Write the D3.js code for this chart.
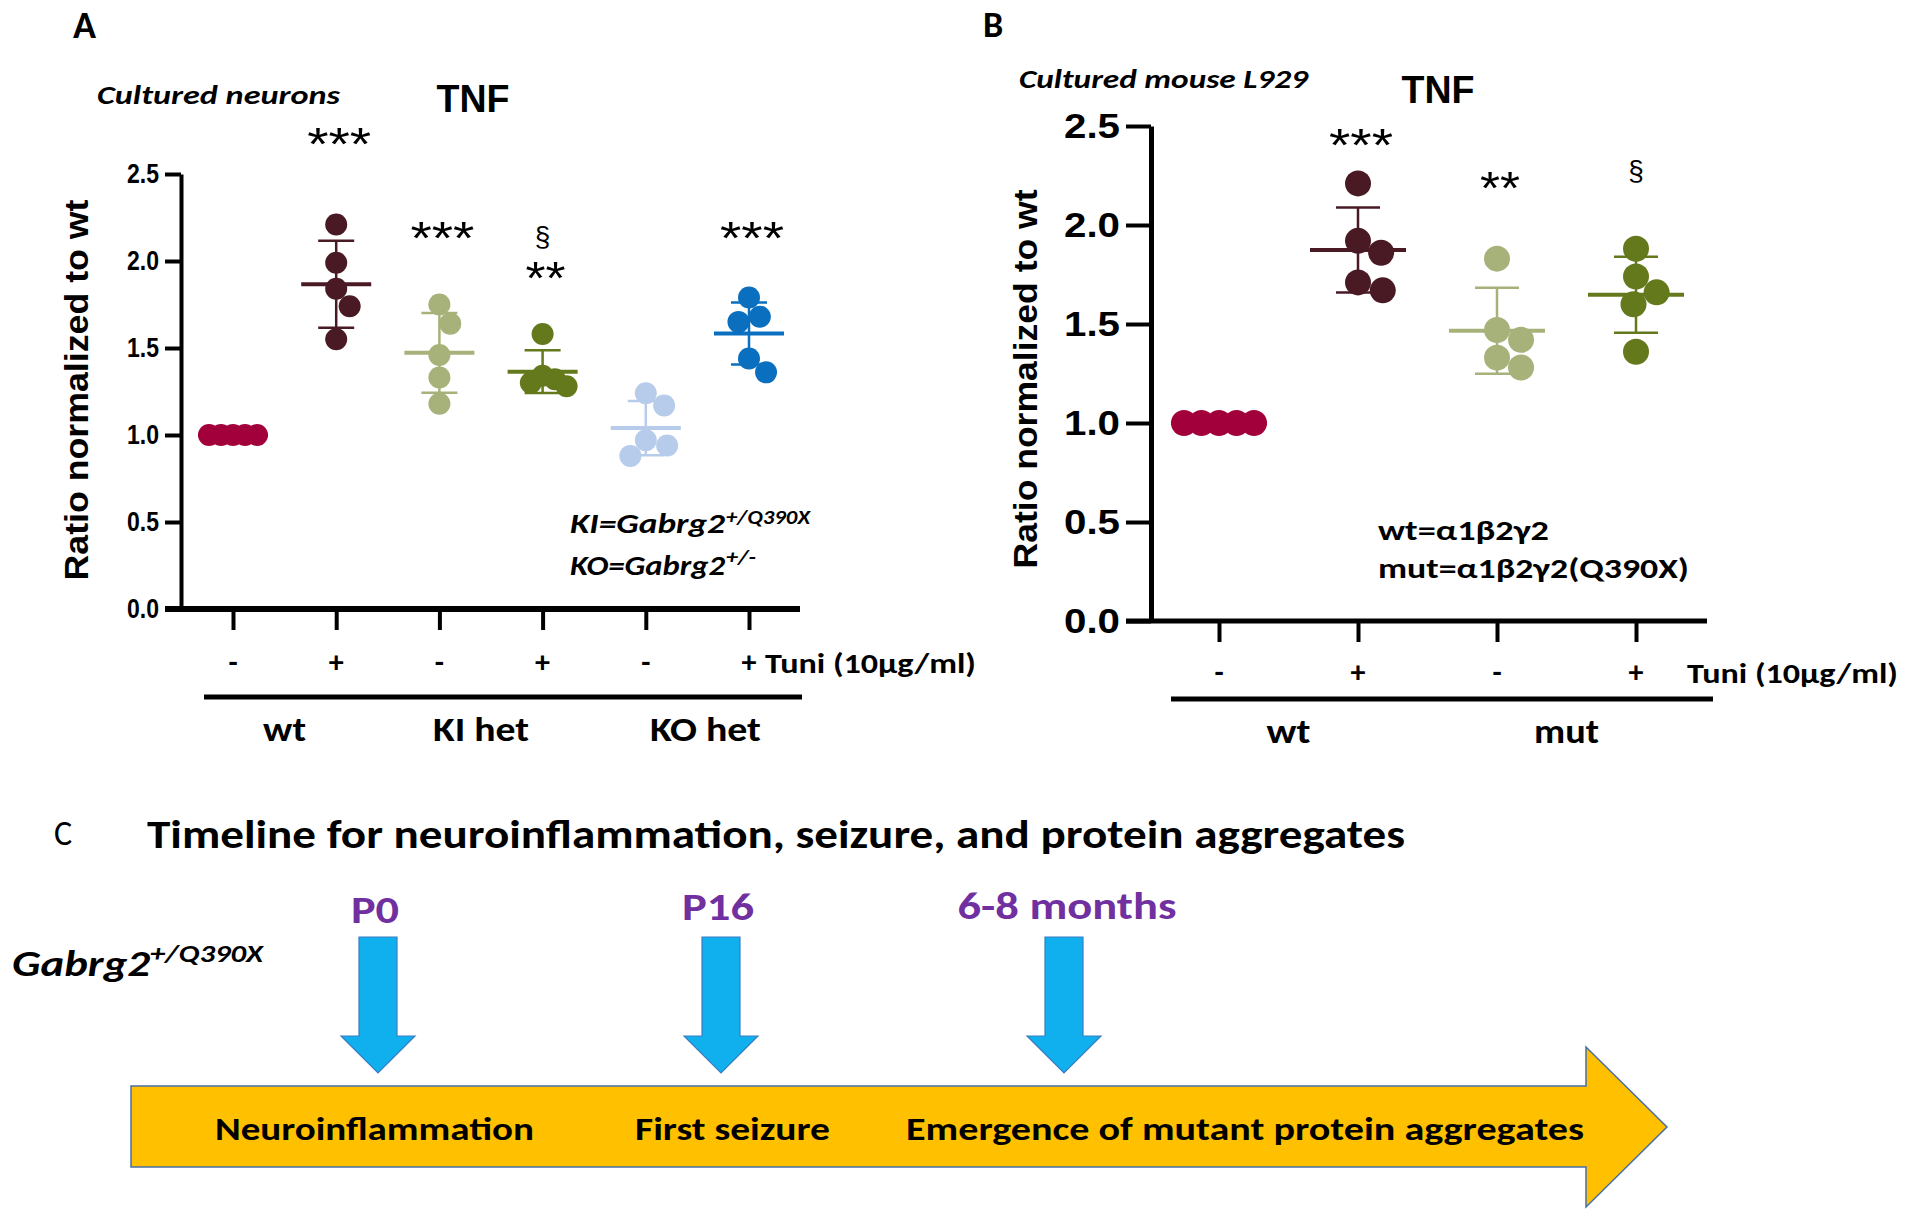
<!DOCTYPE html>
<html><head><meta charset="utf-8">
<script src="https://cdn.jsdelivr.net/npm/d3@7"></script>
<style>body{margin:0;background:#fff;}svg{display:block;}</style>
</head><body>
<svg id="chart" width="1915" height="1221"></svg>
<script>
// ---------------- DATA ----------------
const yTickValues = [0, 0.5, 1.0, 1.5, 2.0, 2.5];

// Panel A: cultured neurons, TNF
const panelATuni = ["-", "+", "-", "+", "-", "+"];
const panelAGenotypes = ["wt", "KI het", "KO het"];
const panelAValues = [
  [1.00, 1.00, 1.00, 1.00, 1.00],
  [2.21, 1.99, 1.84, 1.74, 1.55],
  [1.75, 1.64, 1.46, 1.33, 1.18],
  [1.58, 1.34, 1.32, 1.30, 1.28],
  [1.24, 1.17, 0.97, 0.94, 0.88],
  [1.79, 1.68, 1.65, 1.44, 1.36]
];
const panelAColors = ["#a2003a", "#4a1a24", "#a7b27a", "#64781c", "#b7ccea", "#0a6fbf"];
const panelAStars = ["", "***", "***", "**", "", "***"];
const panelAStarLevel = [null, 2.71, 2.17, 1.94, null, 2.17];
const panelASection = ["", "", "", "§", "", ""];
const panelASectionLevel = [null, null, null, 2.13, null, null];

// Panel B: cultured mouse L929, TNF
const panelBTuni = ["-", "+", "-", "+"];
const panelBGenotypes = ["wt", "mut"];
const panelBValues = [
  [1.00, 1.00, 1.00, 1.00, 1.00],
  [2.21, 1.92, 1.86, 1.71, 1.67],
  [1.83, 1.47, 1.42, 1.33, 1.28],
  [1.88, 1.74, 1.66, 1.60, 1.36]
];
const panelBColors = ["#a2003a", "#4a1a24", "#a7b27a", "#64781c"];
const panelBStars = ["", "***", "**", ""];
const panelBStarLevel = [null, 2.44, 2.22, null];
const panelBSection = ["", "", "", "§"];
const panelBSectionLevel = [null, null, null, 2.27];

// Panel C: timeline
const milestones = ["P0", "P16", "6-8 months"];
const events = ["Neuroinflammation", "First seizure", "Emergence of mutant protein aggregates"];

// ---------------- HELPERS ----------------
const svg = d3.select("#chart");
const F_CAL = "Carlito, Lato, 'Open Sans', sans-serif";
const F_ARIAL = "'Liberation Sans', Arial, sans-serif";

function txt(g, s, x, y, o = {}) {
  const t = g.append("text").attr("x", x).attr("y", y).text(s)
    .attr("font-family", o.family || F_CAL).attr("font-size", o.size || 28)
    .attr("font-weight", o.weight || "bold").attr("font-style", o.style || "normal")
    .attr("text-anchor", o.anchor || "start").attr("fill", o.fill || "#000");
  if (o.width) t.attr("textLength", o.width).attr("lengthAdjust", "spacingAndGlyphs");
  return t;
}

function swarm(vals, y, r, maxHalf) {
  const d = 2 * r;
  const pts = vals.map((v, i) => ({ v, i, py: y(v) })).sort((a, b) => a.py - b.py);
  const placed = [];
  pts.forEach(p => {
    const cands = [0];
    placed.forEach(q => {
      const dy = Math.abs(q.py - p.py);
      if (dy < d) { const dx = Math.sqrt(d * d - dy * dy); cands.push(q.dx + dx, q.dx - dx); }
    });
    cands.sort((a, b) => Math.abs(a) - Math.abs(b));
    let best = 0;
    for (const c of cands) {
      if (placed.every(q => { const dy = q.py - p.py, dx = q.dx - c; return dx * dx + dy * dy >= d * d - 0.01; })) { best = c; break; }
    }
    p.dx = best;
    placed.push(p);
  });
  const m = d3.max(placed, p => Math.abs(p.dx));
  if (m > maxHalf) placed.forEach(p => p.dx *= maxHalf / m);
  return placed;
}

function drawPanel(p) {
  const g = svg.append("g");
  const y = d3.scaleLinear().domain([0, 2.5]).range([p.y0, p.y1]);
  const x = d3.scalePoint().domain(d3.range(p.tuni.length)).range([p.xFirst, p.xLast]);

  // y axis
  const ya = g.append("g").attr("transform", `translate(${p.axisX},0)`)
    .call(d3.axisLeft(y).tickValues(yTickValues).tickFormat(d3.format(".1f"))
      .tickSize(p.tickLen).tickSizeOuter(0).tickPadding(p.tickPad));
  ya.select(".domain").attr("stroke-width", p.axisW);
  ya.selectAll(".tick line").attr("stroke-width", p.tickW);
  ya.selectAll(".tick text").attr("font-family", F_ARIAL).attr("font-weight", "bold")
    .attr("font-size", p.tickFont).attr("fill", "#000")
    .attr("textLength", p.tickTextW).attr("lengthAdjust", "spacingAndGlyphs");

  // x axis
  g.append("line").attr("x1", p.axisX - p.tickLen).attr("x2", p.xAxisEnd)
    .attr("y1", y(0)).attr("y2", y(0)).attr("stroke", "#000").attr("stroke-width", p.xAxisW);
  const xa = g.append("g").attr("transform", `translate(0,${y(0)})`)
    .call(d3.axisBottom(x).tickSize(p.xTickLen).tickFormat(""));
  xa.select(".domain").remove();
  xa.selectAll(".tick line").attr("stroke-width", p.tickW);

  // tuni signs
  p.tuni.forEach((s, i) => txt(g, s, x(i), p.signY, { anchor: "middle", size: p.signFont }));
  txt(g, "Tuni (10\u00b5g/ml)", p.tuniX, p.signY + 1, { size: 28, width: 211 });

  // group underline and genotype labels
  g.append("line").attr("x1", p.ulX1).attr("x2", p.ulX2).attr("y1", p.ulY).attr("y2", p.ulY)
    .attr("stroke", "#000").attr("stroke-width", 5);
  p.genotypes.forEach((gn, k) => {
    const cx = (x(2 * k) + x(2 * k + 1)) / 2 + (p.genoShift ? p.genoShift[k] : 0);
    txt(g, gn, cx, p.genoY, { anchor: "middle", size: 34, width: p.genoW[k] });
  });

  // y label
  g.append("text").attr("transform", `translate(${p.ylabX},${p.ylabY}) rotate(-90)`)
    .attr("text-anchor", "middle").attr("font-family", F_ARIAL).attr("font-weight", "bold")
    .attr("font-size", 33).attr("textLength", p.ylabW).attr("lengthAdjust", "spacingAndGlyphs")
    .text("Ratio normalized  to  wt");

  // data
  p.values.forEach((vals, i) => {
    const col = p.colors[i];
    const pts = swarm(vals, y, p.r, p.maxHalf);
    g.append("g").selectAll("circle").data(pts).join("circle")
      .attr("cx", d => x(i) + d.dx).attr("cy", d => y(d.v)).attr("r", p.r).attr("fill", col);
    const m = d3.mean(vals), sd = d3.deviation(vals) || 0;
    const eg = g.append("g").attr("stroke", col).attr("fill", "none");
    eg.append("line").attr("x1", x(i)).attr("x2", x(i)).attr("y1", y(m - sd)).attr("y2", y(m + sd)).attr("stroke-width", 2.5);
    [m - sd, m + sd].forEach(v => eg.append("line").attr("x1", x(i) - p.capW / 2).attr("x2", x(i) + p.capW / 2)
      .attr("y1", y(v)).attr("y2", y(v)).attr("stroke-width", 2.5));
    eg.append("line").attr("x1", x(i) - p.meanW / 2).attr("x2", x(i) + p.meanW / 2)
      .attr("y1", y(m)).attr("y2", y(m)).attr("stroke-width", 4);

    if (p.stars[i]) {
      txt(g, p.stars[i], x(i) + 3, y(p.starLevel[i]) + 23,
        { anchor: "middle", family: F_ARIAL, weight: "normal", size: 46, width: p.stars[i].length === 3 ? 64 : 40 });
    }
    if (p.section[i]) {
      txt(g, "\u00a7", x(i), y(p.sectionLevel[i]) + 8, { anchor: "middle", family: F_ARIAL, weight: "normal", size: 28 });
    }
  });
  return g;
}

// ---------------- PANEL A ----------------
txt(svg, "A", 73, 38, { size: 38 });
txt(svg, "Cultured neurons", 97, 104, { size: 27, style: "italic", width: 243 });
txt(svg, "TNF", 473, 112, { anchor: "middle", family: F_ARIAL, weight: "bold", size: 38, width: 73 });
drawPanel({
  tuni: panelATuni, genotypes: panelAGenotypes, values: panelAValues, colors: panelAColors,
  stars: panelAStars, starLevel: panelAStarLevel, section: panelASection, sectionLevel: panelASectionLevel,
  y0: 609, y1: 174, xFirst: 233, xLast: 749, axisX: 181, tickLen: 16, tickPad: 6, axisW: 4, tickW: 4,
  tickFont: 27, tickTextW: 32, xAxisEnd: 800, xAxisW: 6, xTickLen: 21,
  signY: 672, signFont: 30, tuniX: 765, ulX1: 204, ulX2: 802, ulY: 697, genoY: 741, genoW: [43, 96, 111],
  genoShift: [0, -10, 8],
  ylabX: 88, ylabY: 390, ylabW: 381, r: 11, maxHalf: 24, capW: 36, meanW: 70
});
txt(svg, "KI=Gabrg2", 570, 533, { size: 29, style: "italic", width: 155 });
txt(svg, "+/Q390X", 726, 524, { size: 20, style: "italic", width: 84 });
txt(svg, "KO=Gabrg2", 570, 575, { size: 29, style: "italic", width: 155 });
txt(svg, "+/-", 726, 564, { size: 20, style: "italic", width: 30 });

// ---------------- PANEL B ----------------
txt(svg, "B", 983, 37, { size: 36 });
txt(svg, "Cultured mouse L929", 1019, 88, { size: 27, style: "italic", width: 289 });
txt(svg, "TNF", 1438, 103, { anchor: "middle", family: F_ARIAL, weight: "bold", size: 38, width: 73 });
drawPanel({
  tuni: panelBTuni, genotypes: panelBGenotypes, values: panelBValues, colors: panelBColors,
  stars: panelBStars, starLevel: panelBStarLevel, section: panelBSection, sectionLevel: panelBSectionLevel,
  y0: 621, y1: 126, xFirst: 1219, xLast: 1636, axisX: 1151, tickLen: 25, tickPad: 6, axisW: 5, tickW: 4,
  tickFont: 35, tickTextW: 56, xAxisEnd: 1707, xAxisW: 5, xTickLen: 21,
  signY: 682, signFont: 30, tuniX: 1687, ulX1: 1171, ulX2: 1713, ulY: 699, genoY: 743, genoW: [44, 65],
  ylabX: 1037, ylabY: 379, ylabW: 379, r: 13, maxHalf: 35, capW: 44, meanW: 96
});
txt(svg, "wt=\u03b11\u03b22\u03b32", 1378, 540, { size: 29, width: 171 });
txt(svg, "mut=\u03b11\u03b22\u03b32(Q390X)", 1378, 578, { size: 29, width: 311 });

// ---------------- PANEL C ----------------
const cG = svg.append("g");
txt(cG, "C", 54, 845, { size: 34, weight: "normal" });
txt(cG, "Timeline for neuroinflammation, seizure, and protein aggregates", 147, 848, { size: 40, width: 1258 });
txt(cG, "Gabrg2", 12, 976, { size: 37, style: "italic", width: 138 });
txt(cG, "+/Q390X", 150, 962, { size: 24, style: "italic", width: 113 });

// big yellow arrow
cG.append("path")
  .attr("d", "M131,1086 L1586,1086 L1586,1047 L1667,1127 L1586,1207 L1586,1167 L131,1167 Z")
  .attr("fill", "#ffc000").attr("stroke", "#4a6fa5").attr("stroke-width", 1.5);

const mx = d3.scalePoint().domain(milestones).range([378, 1064]);
milestones.forEach(m => {
  const cx = mx(m);
  cG.append("path")
    .attr("d", `M${cx - 19},937 L${cx + 19},937 L${cx + 19},1036 L${cx + 37},1036 L${cx},1073 L${cx - 37},1036 L${cx - 19},1036 Z`)
    .attr("fill", "#10b0ee").attr("stroke", "#3a7cc0").attr("stroke-width", 1.2);
});
const msW = [48, 72, 219];
const msY = [923, 920, 919];
milestones.forEach((m, k) => txt(cG, m, mx(m) - 3 + (k === 2 ? 6 : 0), msY[k], { anchor: "middle", size: 38, fill: "#7030a0", width: msW[k] }));

const evX = [215, 635, 906], evW = [319, 195, 678];
events.forEach((e, k) => txt(cG, e, evX[k], 1140, { size: 32, width: evW[k] }));
</script>
</body></html>
